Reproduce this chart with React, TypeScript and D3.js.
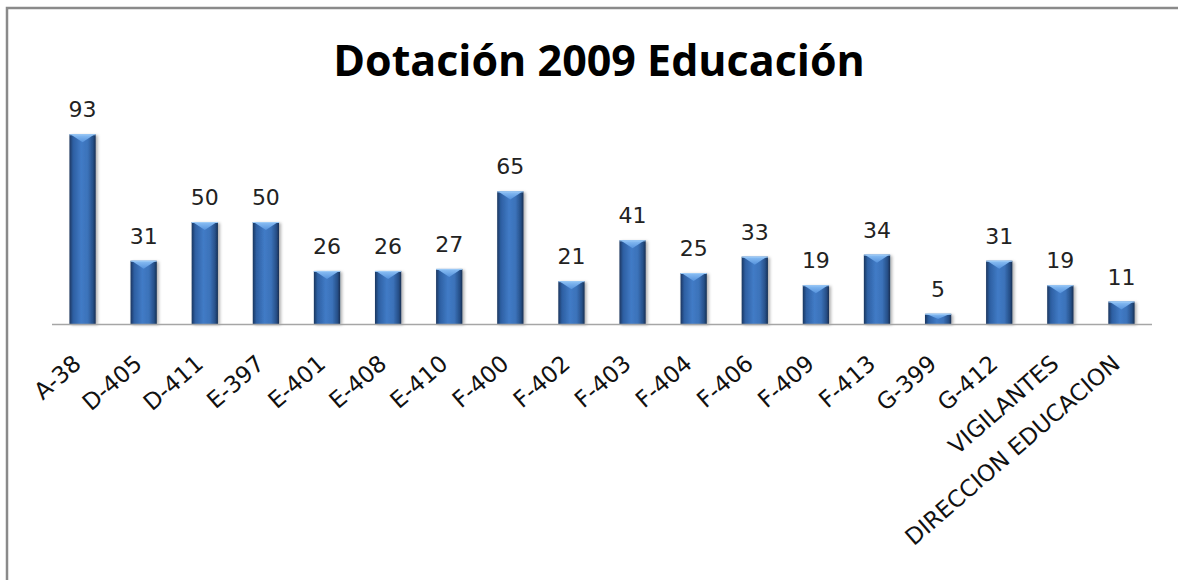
import React from 'react'
import * as d3 from 'd3'

/* chart size and the plot area */
const width = 1178
const height = 580
const margin = { top: 120, right: 26, bottom: 256, left: 52 }

const title = 'Dotación 2009 Educación'

const categories = [
    'A-38', 'D-405', 'D-411', 'E-397', 'E-401', 'E-408', 'E-410', 'F-400', 'F-402',
    'F-403', 'F-404', 'F-406', 'F-409', 'F-413', 'G-399', 'G-412', 'VIGILANTES',
    'DIRECCION EDUCACION',
]
const values = [93, 31, 50, 50, 26, 26, 27, 65, 21, 41, 25, 33, 19, 34, 5, 31, 19, 11]
const yDomain = [0, 100]

const data = categories.map((c, i) => ({ name: c, value: values[i] }))

const App = () => {
    const baseY = height - margin.bottom

    /* x band for every category, y linear for the count */
    const xScale = d3
        .scaleBand<string>()
        .domain(categories)
        .range([margin.left, width - margin.right])
        .paddingInner(0.57)
        .paddingOuter(0.285)
    const yScale = d3.scaleLinear().domain(yDomain).range([baseY, margin.top])

    const bw = xScale.bandwidth()

    return (
        <svg
            width={width}
            height={height}
            style={{ position: 'absolute', left: 0, top: 0, background: '#fff' }}
        >
            <defs>
                <linearGradient id="barBody" x1="0" x2="1" y1="0" y2="0">
                    <stop offset="0%" stopColor="#1b365f" />
                    <stop offset="14%" stopColor="#2d5fa2" />
                    <stop offset="45%" stopColor="#417bc6" />
                    <stop offset="70%" stopColor="#3b72b9" />
                    <stop offset="90%" stopColor="#264f87" />
                    <stop offset="100%" stopColor="#172f52" />
                </linearGradient>
                <linearGradient id="barTop" x1="0" x2="0" y1="0" y2="1">
                    <stop offset="0%" stopColor="#8cc0f5" />
                    <stop offset="100%" stopColor="#5592dc" />
                </linearGradient>
                <filter id="shadow" x="-30%" y="-10%" width="160%" height="130%">
                    <feDropShadow dx="2" dy="1" stdDeviation="1.5" floodColor="#000" floodOpacity="0.3" />
                </filter>
            </defs>

            {/* outer border of the chart area, cut by the page edge */}
            <rect x={7} y={8} width={1300} height={700} fill="none" stroke="#8a8a8a" strokeWidth={2.5} />

            {/* title */}
            <text
                x={599}
                y={76}
                textAnchor="middle"
                fontFamily="'Open Sans', sans-serif"
                fontWeight="bold"
                fontSize="43px"
                fill="#000"
            >
                {title}
            </text>

            {/* bars */}
            {data.map((d, i) => {
                const x = xScale(d.name) as number
                const y = yScale(d.value)
                const h = baseY - y
                const cap = Math.min(8, h / 2)
                return (
                    <g key={i}>
                        <rect x={x} y={y} width={bw} height={h} fill="url(#barBody)" filter="url(#shadow)" />
                        <polygon
                            points={`${x + 1},${y} ${x + bw - 1},${y} ${x + bw / 2},${y + cap}`}
                            fill="url(#barTop)"
                        />
                        <line x1={x} x2={x + bw} y1={y + 0.5} y2={y + 0.5} stroke="#9ccaf7" strokeWidth={1} />
                    </g>
                )
            })}

            {/* category axis line */}
            <line
                x1={margin.left}
                x2={width - margin.right}
                y1={baseY + 0.5}
                y2={baseY + 0.5}
                stroke="#a6a6a6"
                strokeWidth={1.5}
            />

            {/* value labels */}
            {data.map((d, i) => (
                <text
                    key={i}
                    x={(xScale(d.name) as number) + bw / 2}
                    y={yScale(d.value) - 17}
                    textAnchor="middle"
                    fontFamily="'DejaVu Sans', sans-serif"
                    fontSize="22px"
                    fill="#222"
                >
                    {d.value}
                </text>
            ))}

            {/* rotated category labels */}
            {data.map((d, i) => {
                const cx = (xScale(d.name) as number) + bw / 2
                const cy = baseY + 42
                return (
                    <text
                        key={i}
                        transform={`translate(${cx},${cy}) rotate(-41)`}
                        textAnchor="end"
                        fontFamily="'DejaVu Sans', sans-serif"
                        fontSize="23px"
                        fill="#111"
                    >
                        {d.name}
                    </text>
                )
            })}
        </svg>
    )
}

export default App
